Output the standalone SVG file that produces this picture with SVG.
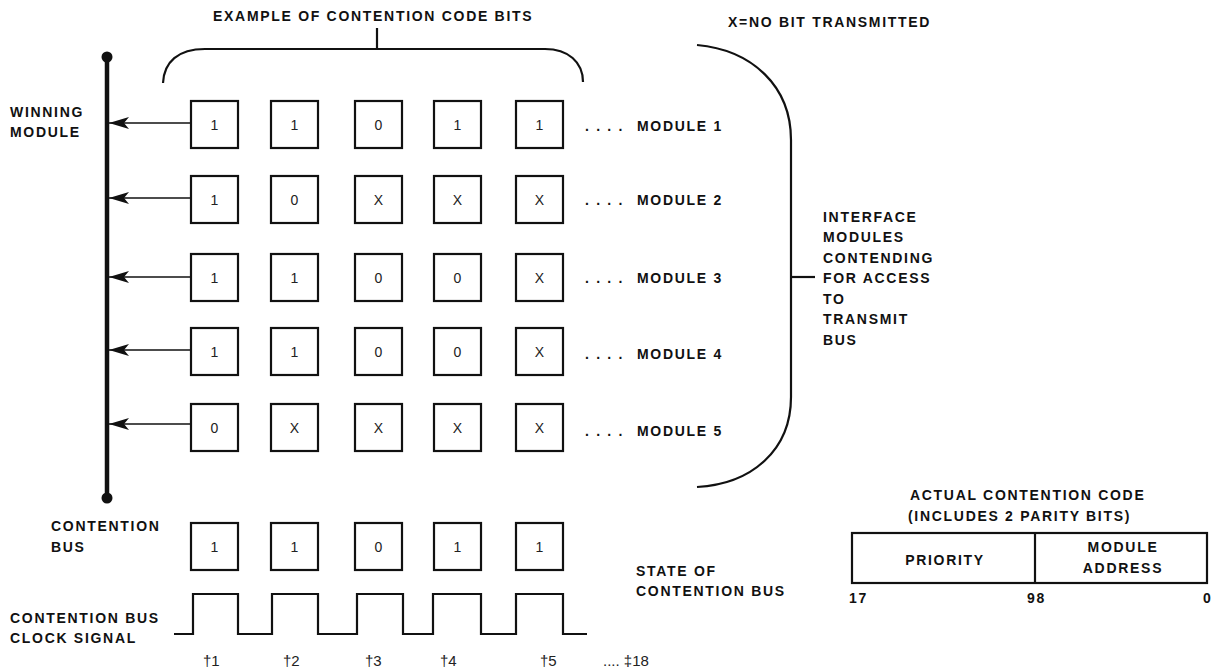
<svg xmlns="http://www.w3.org/2000/svg" width="1220" height="672" viewBox="0 0 1220 672">
<style>
.lbl{font-family:"Liberation Sans",Arial,sans-serif;font-weight:bold;font-size:14px;letter-spacing:1.7px;fill:#111}
.bit{font-family:"Liberation Sans",Arial,sans-serif;font-size:14px;fill:#222;text-anchor:middle}
.tk{font-family:"Liberation Sans",Arial,sans-serif;font-size:15px;fill:#222}
.box{fill:#fff;stroke:#111;stroke-width:2.2}
.ln{fill:none;stroke:#111;stroke-width:2.2}
.arr{fill:none;stroke:#111;stroke-width:1.7;marker-end:url(#ah)}
</style>
<defs>
<marker id="ah" markerUnits="userSpaceOnUse" markerWidth="20" markerHeight="12" viewBox="0 0 20 12" refX="20" refY="6" orient="auto">
<path d="M0,0 L20,6 L0,12 L5,6 z" fill="#111"/>
</marker>
</defs>
<rect width="1220" height="672" fill="#fff"/>

<!-- labels -->
<text class="lbl" x="213" y="21">EXAMPLE OF CONTENTION CODE BITS</text>
<text class="lbl" x="728" y="27">X=NO BIT TRANSMITTED</text>
<text class="lbl" x="10" y="117">WINNING</text>
<text class="lbl" x="10" y="137">MODULE</text>
<text class="lbl" x="51" y="531">CONTENTION</text>
<text class="lbl" x="51" y="552">BUS</text>
<text class="lbl" x="10" y="623">CONTENTION BUS</text>
<text class="lbl" x="10" y="643">CLOCK SIGNAL</text>
<text class="lbl" x="636" y="576">STATE OF</text>
<text class="lbl" x="636" y="596">CONTENTION BUS</text>
<g id="interface-label">
<text class="lbl" x="823" y="222">INTERFACE</text>
<text class="lbl" x="823" y="242">MODULES</text>
<text class="lbl" x="823" y="263">CONTENDING</text>
<text class="lbl" x="823" y="283">FOR ACCESS</text>
<text class="lbl" x="823" y="304">TO</text>
<text class="lbl" x="823" y="324">TRANSMIT</text>
<text class="lbl" x="823" y="345">BUS</text>
</g>

<!-- brackets -->
<path class="ln" d="M163,83 C164,62 178,49 205,49 L545,49 C568,49 583,62 583,82"/>
<path class="ln" d="M377,28 V49" stroke-width="2.6"/>
<path class="ln" d="M697,45 C752,50 791,86 791,140 L791,397 C791,450 752,484 697,487"/>
<path class="ln" d="M791,277 H815"/>

<!-- contention bus -->
<g id="contention-bus">
<line x1="107" y1="57" x2="107" y2="498" stroke="#111" stroke-width="4.5"/>
<circle cx="107" cy="57" r="5.5" fill="#111"/>
<circle cx="107" cy="498" r="5.5" fill="#111"/>
</g>

<!-- connectors -->
<g id="connectors">
<line class="arr" x1="191" y1="123" x2="109" y2="123"/>
<line class="arr" x1="191" y1="198" x2="109" y2="198"/>
<line class="arr" x1="191" y1="277" x2="109" y2="277"/>
<line class="arr" x1="191" y1="350" x2="109" y2="350"/>
<line class="arr" x1="191" y1="424" x2="109" y2="424"/>
</g>

<!-- module 1 -->
<g id="module1">
<rect class="box" x="191" y="101" width="47" height="47"/><text class="bit" x="214.5" y="129.5">1</text>
<rect class="box" x="271" y="101" width="47" height="47"/><text class="bit" x="294.5" y="129.5">1</text>
<rect class="box" x="355" y="101" width="47" height="47"/><text class="bit" x="378.5" y="129.5">0</text>
<rect class="box" x="434" y="101" width="47" height="47"/><text class="bit" x="457.5" y="129.5">1</text>
<rect class="box" x="516" y="101" width="47" height="47"/><text class="bit" x="539.5" y="129.5">1</text>
<text class="lbl" x="585" y="131">. . . .<tspan x="637">MODULE 1</tspan></text>
</g>
<g id="module2">
<rect class="box" x="191" y="176" width="47" height="47"/><text class="bit" x="214.5" y="204.5">1</text>
<rect class="box" x="271" y="176" width="47" height="47"/><text class="bit" x="294.5" y="204.5">0</text>
<rect class="box" x="355" y="176" width="47" height="47"/><text class="bit" x="378.5" y="204.5">X</text>
<rect class="box" x="434" y="176" width="47" height="47"/><text class="bit" x="457.5" y="204.5">X</text>
<rect class="box" x="516" y="176" width="47" height="47"/><text class="bit" x="539.5" y="204.5">X</text>
<text class="lbl" x="585" y="205">. . . .<tspan x="637">MODULE 2</tspan></text>
</g>
<g id="module3">
<rect class="box" x="191" y="254" width="47" height="47"/><text class="bit" x="214.5" y="282.5">1</text>
<rect class="box" x="271" y="254" width="47" height="47"/><text class="bit" x="294.5" y="282.5">1</text>
<rect class="box" x="355" y="254" width="47" height="47"/><text class="bit" x="378.5" y="282.5">0</text>
<rect class="box" x="434" y="254" width="47" height="47"/><text class="bit" x="457.5" y="282.5">0</text>
<rect class="box" x="516" y="254" width="47" height="47"/><text class="bit" x="539.5" y="282.5">X</text>
<text class="lbl" x="585" y="283">. . . .<tspan x="637">MODULE 3</tspan></text>
</g>
<g id="module4">
<rect class="box" x="191" y="328" width="47" height="47"/><text class="bit" x="214.5" y="356.5">1</text>
<rect class="box" x="271" y="328" width="47" height="47"/><text class="bit" x="294.5" y="356.5">1</text>
<rect class="box" x="355" y="328" width="47" height="47"/><text class="bit" x="378.5" y="356.5">0</text>
<rect class="box" x="434" y="328" width="47" height="47"/><text class="bit" x="457.5" y="356.5">0</text>
<rect class="box" x="516" y="328" width="47" height="47"/><text class="bit" x="539.5" y="356.5">X</text>
<text class="lbl" x="585" y="359">. . . .<tspan x="637">MODULE 4</tspan></text>
</g>
<g id="module5">
<rect class="box" x="191" y="404" width="47" height="47"/><text class="bit" x="214.5" y="432.5">0</text>
<rect class="box" x="271" y="404" width="47" height="47"/><text class="bit" x="294.5" y="432.5">X</text>
<rect class="box" x="355" y="404" width="47" height="47"/><text class="bit" x="378.5" y="432.5">X</text>
<rect class="box" x="434" y="404" width="47" height="47"/><text class="bit" x="457.5" y="432.5">X</text>
<rect class="box" x="516" y="404" width="47" height="47"/><text class="bit" x="539.5" y="432.5">X</text>
<text class="lbl" x="585" y="436">. . . .<tspan x="637">MODULE 5</tspan></text>
</g>
<g id="bus-state">
<rect class="box" x="191" y="523" width="47" height="47"/><text class="bit" x="214.5" y="551.5">1</text>
<rect class="box" x="271" y="523" width="47" height="47"/><text class="bit" x="294.5" y="551.5">1</text>
<rect class="box" x="355" y="523" width="47" height="47"/><text class="bit" x="378.5" y="551.5">0</text>
<rect class="box" x="434" y="523" width="47" height="47"/><text class="bit" x="457.5" y="551.5">1</text>
<rect class="box" x="516" y="523" width="47" height="47"/><text class="bit" x="539.5" y="551.5">1</text>
</g>

<!-- clock -->
<g id="clock">
<path class="ln" d="M174,634 H193 V594 H238 V634 H272 V594 H318 V634 H357 V594 H403 V634 H433 V594 H481 V634 H516 V594 H563 V634 H587"/>
<text class="tk" x="203" y="666">†1</text>
<text class="tk" x="283" y="666">†2</text>
<text class="tk" x="365" y="666">†3</text>
<text class="tk" x="440" y="666">†4</text>
<text class="tk" x="540" y="666">†5</text>
<text class="tk" x="603" y="666">.... ‡18</text>
</g>

<!-- actual contention code -->
<g id="code-format">
<text class="lbl" x="910" y="500">ACTUAL CONTENTION CODE</text>
<text class="lbl" x="908" y="521">(INCLUDES 2 PARITY BITS)</text>
<rect x="852" y="533" width="355" height="50" fill="#fff" stroke="#111" stroke-width="2.2"/>
<line x1="1035" y1="533" x2="1035" y2="583" stroke="#111" stroke-width="2.2"/>
<text class="lbl" x="945" y="565" text-anchor="middle">PRIORITY</text>
<text class="lbl" x="1123" y="552" text-anchor="middle">MODULE</text>
<text class="lbl" x="1123" y="573" text-anchor="middle">ADDRESS</text>
<text class="lbl" x="849" y="603">17</text>
<text class="lbl" x="1027" y="603">98</text>
<text class="lbl" x="1203" y="603">0</text>
</g>
</svg>
